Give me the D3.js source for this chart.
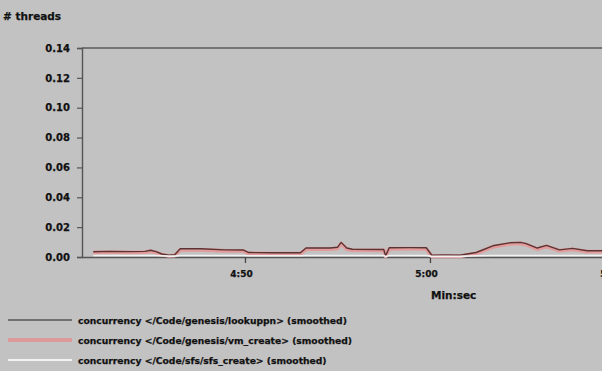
<!DOCTYPE html>
<html>
<head>
<meta charset="utf-8">
<script src="https://cdn.jsdelivr.net/npm/d3@7"></script>
<style>
  html, body { margin: 0; padding: 0; background: #c2c2c2; }
  svg { display: block; }
  text { font-family: "DejaVu Sans", sans-serif; font-weight: bold; fill: #111; stroke: #111; stroke-width: 0.25px; }
</style>
</head>
<body>
<svg id="chart" width="602" height="371"></svg>
<script>
// Sample times in seconds (4:41.8 … 5:09.3)
const times = [281.8, 282.7, 283.8, 284.6, 284.9, 285.2, 285.5, 285.9, 286.2, 286.5,
  287.6, 288.9, 289.9, 290.2, 291.4, 293.0, 293.3, 294.6, 295.0, 295.2,
  295.5, 295.8, 297.5, 297.6, 297.8, 298.9, 299.8, 300.1, 300.8, 301.6,
  302.5, 303.4, 304.3, 304.9, 305.2, 305.8, 306.3, 307.0, 307.7, 308.5, 309.3];

// Smoothed concurrency, number of threads
const lookuppn = [0.0035, 0.0038, 0.0036, 0.0038, 0.0045, 0.0036, 0.0020, 0.0012, 0.0015, 0.0055,
  0.0055, 0.0048, 0.0047, 0.0030, 0.0028, 0.0028, 0.0060, 0.0060, 0.0065, 0.0098,
  0.0060, 0.0052, 0.0050, 0.0008, 0.0062, 0.0063, 0.0062, 0.0012, 0.0013, 0.0012,
  0.0030, 0.0075, 0.0095, 0.0098, 0.0090, 0.0060, 0.0078, 0.0048, 0.0058, 0.0042, 0.0042];
const vmCreate = [0.0030, 0.0032, 0.0030, 0.0032, 0.0038, 0.0030, 0.0016, 0.0008, 0.0010, 0.0048,
  0.0048, 0.0042, 0.0041, 0.0024, 0.0022, 0.0022, 0.0053, 0.0053, 0.0058, 0.0090,
  0.0053, 0.0046, 0.0044, 0.0004, 0.0055, 0.0056, 0.0055, 0.0005, 0.0005, 0.0005,
  0.0024, 0.0068, 0.0088, 0.0091, 0.0083, 0.0053, 0.0071, 0.0042, 0.0051, 0.0036, 0.0036];
const sfsCreate = [0.0010, 0.0010, 0.0010, 0.0010, 0.0010, 0.0010, 0.0008, 0.0006, 0.0006, 0.0010,
  0.0010, 0.0010, 0.0010, 0.0008, 0.0008, 0.0008, 0.0010, 0.0010, 0.0010, 0.0010,
  0.0010, 0.0010, 0.0010, 0.0004, 0.0010, 0.0010, 0.0010, 0.0004, 0.0004, 0.0004,
  0.0008, 0.0010, 0.0010, 0.0010, 0.0010, 0.0010, 0.0010, 0.0010, 0.0010, 0.0010, 0.0010];

const yTicks = [0, 0.02, 0.04, 0.06, 0.08, 0.10, 0.12, 0.14];
const xTicks = [290, 300, 310];

const seriesNames = [
  "concurrency </Code/genesis/lookuppn> (smoothed)",
  "concurrency </Code/genesis/vm_create> (smoothed)",
  "concurrency </Code/sfs/sfs_create> (smoothed)"
];
const seriesColors = ["#5a3434", "#e39b9b", "#f2f2f2"];
const seriesWidths = [1.4, 3.8, 1.6];
const legendColors = ["#555555", "#dc9a9a", "#f2f2f2"];
const legendWidths = [1.6, 4, 1.8];

const svg = d3.select("#chart");
const plotLeft = 82, plotRight = 602, plotTop = 48, plotBottom = 257;

const x = d3.scaleLinear().domain([281.19, 309.3]).range([plotLeft, plotRight]);
const y = d3.scaleLinear().domain([0, 0.14]).range([plotBottom, plotTop]);

const fmtTime = s => Math.floor(s / 60) + ":" + String(Math.round(s % 60)).padStart(2, "0");

// frame top line
svg.append("line").attr("x1", plotLeft).attr("x2", plotRight).attr("y1", plotTop).attr("y2", plotTop)
  .attr("stroke", "#5a5a5a").attr("stroke-width", 1.3);

// y axis
const yAxis = svg.append("g").attr("transform", `translate(${plotLeft},0)`)
  .call(d3.axisLeft(y).tickValues(yTicks).tickFormat(d3.format(".2f")).tickSize(5).tickPadding(7));
yAxis.select(".domain").attr("stroke", "#555").attr("stroke-width", 1.4);
yAxis.selectAll(".tick line").attr("stroke", "#555").attr("stroke-width", 1.2);
yAxis.selectAll("text").style("font-size", "10px").attr("fill", "#111");

// x axis
const xAxis = svg.append("g").attr("transform", `translate(0,${plotBottom})`)
  .call(d3.axisBottom(x).tickValues(xTicks).tickFormat(fmtTime).tickSize(6).tickPadding(8).tickSizeOuter(0));
xAxis.select(".domain").attr("stroke", "#555").attr("stroke-width", 1.4);
xAxis.selectAll(".tick line").attr("stroke", "#444").attr("stroke-width", 1.3);
xAxis.selectAll("text").style("font-size", "9px").attr("dx", "-4").attr("fill", "#111");

// axis titles
svg.append("text").attr("x", 3).attr("y", 20).style("font-size", "10.5px").text("# threads");
svg.append("text").attr("x", 431).attr("y", 299).style("font-size", "10.5px").text("Min:sec");

// series lines
const allSeries = [lookuppn, vmCreate, sfsCreate];
const line = d3.line().x((d, i) => x(times[i])).y(d => y(d));
[1, 0, 2].forEach(k => {
  svg.append("path").datum(allSeries[k])
    .attr("fill", "none")
    .attr("stroke", seriesColors[k])
    .attr("stroke-width", seriesWidths[k])
    .attr("stroke-linejoin", "round")
    .attr("d", line);
});

// legend
const legend = svg.append("g");
seriesNames.forEach((name, i) => {
  const ly = 320 + i * 20;
  legend.append("line").attr("x1", 8).attr("x2", 72).attr("y1", ly).attr("y2", ly)
    .attr("stroke", legendColors[i]).attr("stroke-width", legendWidths[i]);
  legend.append("text").attr("x", 78).attr("y", ly + 4).style("font-size", "9.2px").text(name);
});
</script>
</body>
</html>
